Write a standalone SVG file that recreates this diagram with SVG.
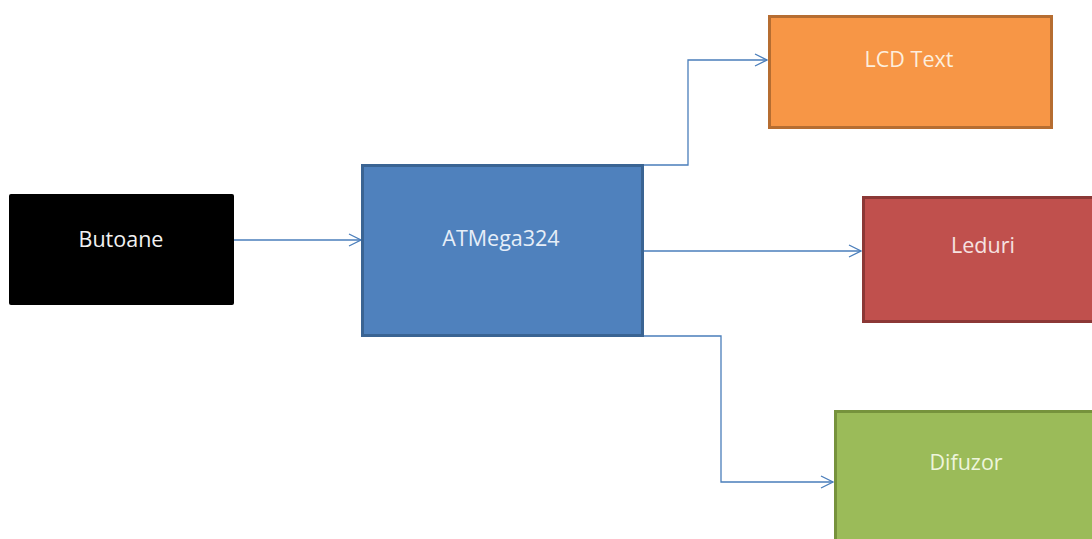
<svg xmlns="http://www.w3.org/2000/svg" width="1092" height="539" viewBox="0 0 1092 539">
  <style>
    .lbl { font-family: "Open Sans", "Liberation Sans", sans-serif; font-size: 21.5px; text-anchor: middle; }
    .conn { fill: none; stroke: #4a7ebb; stroke-width: 1.3; }
  </style>
  <defs>
    <marker id="arr" viewBox="0 0 14 14" refX="13" refY="7" markerWidth="14" markerHeight="14" markerUnits="userSpaceOnUse" orient="auto">
      <path d="M1,1 L13,7 L1,13" fill="none" stroke="#4a7ebb" stroke-width="1.3"/>
    </marker>
  </defs>
  <rect width="1092" height="539" fill="#ffffff"/>
  <g id="connectors">
    <path class="conn" d="M234,240 L361,240" marker-end="url(#arr)"/>
    <path class="conn" d="M644,165 L688,165 L688,60 L767,60" marker-end="url(#arr)"/>
    <path class="conn" d="M644,251 L861,251" marker-end="url(#arr)"/>
    <path class="conn" d="M644,336 L721,336 L721,482 L833,482" marker-end="url(#arr)"/>
  </g>
  <g id="butoane">
    <rect x="9" y="194" width="225" height="111" rx="2" fill="#000000"/>
    <text class="lbl" x="121" y="247" fill="#f2f2f2">Butoane</text>
  </g>
  <g id="atmega324">
    <rect x="362.5" y="165.5" width="280" height="170" fill="#4f81bd" stroke="#3a6493" stroke-width="3"/>
    <text class="lbl" x="501" y="246" fill="#e6eef8">ATMega324</text>
  </g>
  <g id="lcd">
    <rect x="769.5" y="16.5" width="282" height="111" fill="#f79646" stroke="#b66d31" stroke-width="3"/>
    <text class="lbl" x="909" y="67" fill="#fdeedd">LCD Text</text>
  </g>
  <g id="leduri">
    <rect x="863.5" y="197.5" width="240" height="124" fill="#c0504d" stroke="#8c3836" stroke-width="3"/>
    <text class="lbl" x="983" y="253" fill="#f6e2e1">Leduri</text>
  </g>
  <g id="difuzor">
    <rect x="835.5" y="411.5" width="270" height="140" fill="#9bbb59" stroke="#76923c" stroke-width="3"/>
    <text class="lbl" x="966" y="470" fill="#eef5dc">Difuzor</text>
  </g>
</svg>
